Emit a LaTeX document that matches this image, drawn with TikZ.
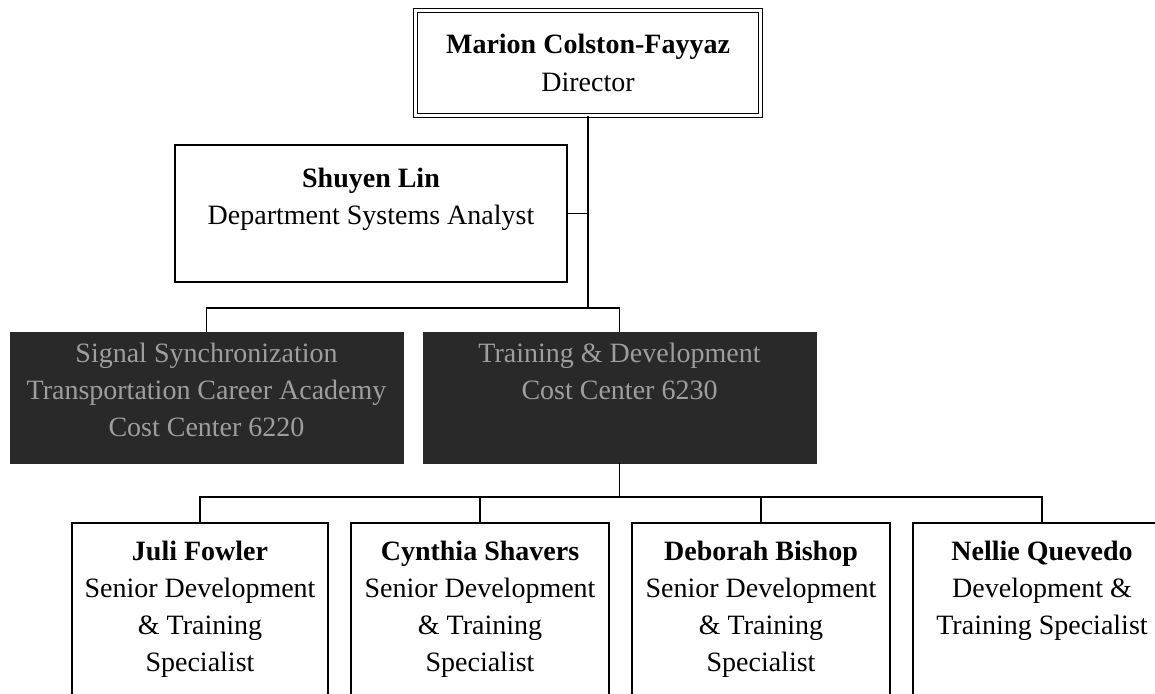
\documentclass[tikz,border=0pt]{standalone}
\usepackage{fontspec}
\setmainfont{Liberation Serif}
\usetikzlibrary{positioning,calc}
\tikzset{
  bx/.style     = {rectangle, draw, line width=1.2pt, inner sep=0pt},
  bxtop/.style  = {bx, double, line width=1.3pt, double distance=2.6pt,
                   align=center, font=\fontsize{28}{38}\selectfont},
  bxdark/.style = {rectangle, fill=black!84, draw=black!84, inner sep=0pt},
  txt/.style    = {align=center, inner sep=0pt, anchor=north,
                   font=\fontsize{28}{37}\selectfont},
  txtdark/.style= {txt, text=black!38},
  cn/.style     = {line width=1.2pt},
}
\begin{document}
\begin{tikzpicture}[x=1pt,y=-1pt]
  \useasboundingbox (0,0) rectangle (1155,693);
  \clip (0,0) rectangle (1155,693);
  % director and analyst
  \node[bxtop, minimum width=345pt, minimum height=105pt] (dir) at (588,63)
       {\textbf{Marion Colston-Fayyaz}\\Director};
  \node[bx, minimum width=392pt, minimum height=137pt] (shu) at (371,213.5) {};
  \node[txt] (shut) at (371,168) {\textbf{Shuyen Lin}\\Department Systems Analyst};
  % cost centers
  \node[bxdark, minimum width=393pt, minimum height=131pt] (dk1) at (206.5,397.5) {};
  \node[txtdark] (dk1t) at (206.5,343)
       {Signal Synchronization\\Transportation Career Academy\\Cost Center 6220};
  \node[bxdark, minimum width=393pt, minimum height=131pt] (dk2) at (619.5,397.5) {};
  \node[txtdark] (dk2t) at (619.5,343) {Training \& Development\\Cost Center 6230};
  % specialists
  \node[bx, minimum width=256pt, minimum height=197pt] (ch1) at (200,621.5) {};
  \node[txt] (ch1t) at (200,541)
       {\textbf{Juli Fowler}\\Senior Development\\\& Training\\Specialist};
  \node[bx, minimum width=258pt, minimum height=197pt] (ch2) at (480,621.5) {};
  \node[txt] (ch2t) at (480,541)
       {\textbf{Cynthia Shavers}\\Senior Development\\\& Training\\Specialist};
  \node[bx, minimum width=258pt, minimum height=197pt] (ch3) at (761,621.5) {};
  \node[txt] (ch3t) at (761,541)
       {\textbf{Deborah Bishop}\\Senior Development\\\& Training\\Specialist};
  \node[bx, minimum width=258pt, minimum height=197pt] (ch4) at (1042,621.5) {};
  \node[txt] (ch4t) at (1042,541)
       {\textbf{Nellie Quevedo}\\Development \&\\Training Specialist};
  % connectors
  \coordinate (br1) at (588,308);
  \coordinate (br2) at (619.5,497);
  \draw[cn] (dir.south) -- (br1);
  \draw[cn] (shu.east) -- (shu.east -| dir.south);
  \draw[cn] (dk1.north) |- (br1) -| (dk2.north);
  \draw[cn] (dk2.south) -- (br2);
  \draw[cn] (ch1.north) |- (br2) -| (ch4.north);
  \draw[cn] (ch2.north) -- (ch2.north |- br2);
  \draw[cn] (ch3.north) -- (ch3.north |- br2);
\end{tikzpicture}
\end{document}
